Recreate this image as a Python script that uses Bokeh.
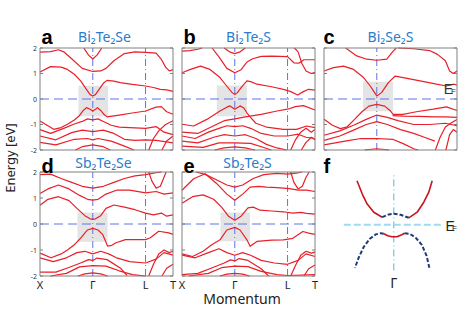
import math
from bokeh.plotting import figure
from bokeh.models import Label, Range1d
from bokeh.embed import file_html
from bokeh.resources import INLINE

# ---------------- data ----------------
K_TICKS = [-1, 0, 1, 1.52]
K_TICK_LABELS = ["X", "Γ", "L", "T"]
E_TICKS = [-2, -1, 0, 1, 2]
K_MIN, K_MAX = -1, 1.52
E_MIN, E_MAX = -2, 2

TITLES = ["Bi₂Te₂Se", "Bi₂Te₂S", "Bi₂Se₂S", "Sb₂Te₂Se", "Sb₂Te₂S"]
LETTERS = ["a", "b", "c", "d", "e", "f"]

# grey highlight boxes: k_left, k_right, E_bottom, E_top
BOX_A = [-0.27, 0.29, -0.68, 0.52]
BOX_B = [-0.34, 0.23, -0.68, 0.53]
BOX_C = [-0.26, 0.31, -0.48, 0.68]
BOX_D = [-0.29, 0.28, -0.68, 0.44]
BOX_E = [-0.27, 0.29, -0.66, 0.44]

bands_a = [
    ([-0.17, -0.08, 0, 0.08, 0.17], [2.0, 1.72, 1.57, 1.72, 2.0]),
    ([-1, -0.8, -0.65, -0.55, -0.4, -0.2, 0, 0.15, 0.25, 0.4, 0.6, 0.8, 1.0, 1.2, 1.3, 1.38, 1.45, 1.52],
     [1.84, 1.86, 1.93, 1.85, 1.58, 1.2, 1.08, 1.1, 1.2, 1.5, 1.78, 1.85, 1.83, 1.8, 1.55, 1.25, 1.1, 1.15]),
    ([-1, -0.8, -0.6, -0.48, -0.35, -0.23, -0.12, -0.05, 0, 0.05, 0.12, 0.21, 0.27, 0.4, 0.52, 0.75, 1.0, 1.15, 1.28, 1.4, 1.52],
     [1.06, 1.27, 1.25, 1.16, 0.97, 0.71, 0.38, 0.17, 0.12, 0.17, 0.38, 0.64, 0.73, 0.7, 0.64, 0.57, 0.51, 0.45, 0.38, 0.36, 0.3]),
    ([-1, -0.85, -0.74, -0.6, -0.48, -0.35, -0.26, -0.18, -0.12, -0.05, 0, 0.05, 0.09, 0.15, 0.22, 0.27, 0.5, 0.75, 1.0, 1.2, 1.3, 1.4, 1.52],
     [-0.86, -1.05, -1.19, -1.12, -0.99, -0.82, -0.67, -0.45, -0.34, -0.4, -0.47, -0.4, -0.34, -0.45, -0.62, -0.7, -0.63, -0.55, -0.47, -0.32, -0.3, -0.5, -0.6]),
    ([-1, -0.8, -0.55, -0.35, -0.2, -0.1, 0, 0.1, 0.2, 0.35, 0.5, 0.7, 1.0, 1.2, 1.35, 1.52],
     [-1.2, -1.35, -1.15, -0.98, -0.88, -0.78, -0.82, -0.78, -0.88, -1.03, -1.1, -1.12, -1.15, -1.08, -1.3, -1.4]),
    ([-1, -0.7, -0.4, -0.2, 0, 0.2, 0.4, 0.6, 0.8, 1.0, 1.2, 1.52],
     [-1.45, -1.6, -1.32, -1.22, -1.28, -1.22, -1.35, -1.58, -1.62, -1.6, -1.62, -1.72]),
    ([-1, -0.7, -0.35, -0.1, 0, 0.1, 0.35, 0.6, 0.78], [-1.7, -1.8, -1.58, -1.55, -1.6, -1.55, -1.65, -1.85, -2.0]),
    ([-0.33, -0.2, 0, 0.2, 0.33], [-2.0, -1.87, -1.8, -1.87, -2.0]),
    ([1.06, 1.15, 1.25, 1.38, 1.52], [-2.0, -1.55, -1.25, -1.0, -0.85]),
    ([1.31, 1.4, 1.52], [-2.0, -1.65, -1.45]),
]

bands_b = [
    ([-0.2, -0.1, 0, 0.1, 0.2], [2.0, 1.85, 1.78, 1.85, 2.0]),
    ([-1, -0.85, -0.7, -0.62], [1.88, 1.9, 1.95, 2.0]),
    ([-0.43, -0.3, -0.15, 0, 0.12, 0.23, 0.34, 0.5, 0.7, 1.0, 1.12, 1.22, 1.31, 1.52],
     [2.0, 1.65, 1.2, 1.03, 1.15, 1.45, 1.58, 1.67, 1.68, 1.66, 1.42, 1.41, 1.54, 1.54]),
    ([-1, -0.84, -0.65, -0.47, -0.28, -0.15, -0.05, 0, 0.05, 0.12, 0.23, 0.3, 0.42, 0.7, 0.92, 1.05, 1.19, 1.3, 1.4, 1.52],
     [1.03, 1.16, 1.29, 1.16, 0.84, 0.5, 0.25, 0.18, 0.25, 0.45, 0.71, 0.68, 0.58, 0.48, 0.38, 0.3, 0.16, 0.29, 0.38, 0.35]),
    ([-1, -0.78, -0.53, -0.28, -0.15, -0.09, 0, 0.1, 0.17, 0.23, 0.29, 0.4, 0.6, 0.92, 1.17, 1.36, 1.52],
     [-0.99, -1.06, -0.8, -0.47, -0.32, -0.27, -0.4, -0.27, -0.35, -0.54, -0.7, -0.95, -1.1, -1.19, -1.19, -1.06, -1.12]),
    ([-1, -0.7, -0.4, -0.2, 0, 0.2, 0.5, 0.8, 1.0, 1.15, 1.3, 1.52],
     [-1.3, -1.35, -1.05, -0.85, -0.78, -0.7, -0.6, -0.47, -0.4, -0.3, -0.26, -0.43]),
    ([-1, -0.75, -0.5, -0.3, -0.15, 0, 0.15, 0.3, 0.5, 0.75, 1.0, 1.2, 1.35, 1.52],
     [-1.45, -1.55, -1.3, -1.15, -1.05, -1.08, -1.05, -1.15, -1.35, -1.45, -1.45, -1.38, -1.5, -1.55]),
    ([-1, -0.7, -0.4, -0.2, 0, 0.2, 0.4, 0.6, 0.8, 0.98],
     [-1.65, -1.72, -1.5, -1.4, -1.45, -1.4, -1.55, -1.78, -1.92, -2.0]),
    ([-1, -0.6, -0.3, 0, 0.3, 0.55, 0.69], [-1.85, -1.9, -1.72, -1.72, -1.74, -1.9, -2.0]),
    ([-0.38, -0.2, 0, 0.2, 0.38], [-2.0, -1.92, -1.88, -1.92, -2.0]),
    ([1.06, 1.15, 1.25, 1.35, 1.45, 1.52], [-2.0, -1.6, -1.3, -1.15, -1.3, -1.2]),
    ([1.26, 1.35, 1.45, 1.52], [-2.0, -1.7, -1.5, -1.6]),
    ([1.13, 1.2, 1.27, 1.35, 1.45, 1.52], [2.0, 1.85, 1.4, 1.1, 1.0, 1.05]),
]

bands_c = [
    ([-0.59, -0.38, -0.19, 0, 0.19, 0.31, 0.37], [2.0, 1.69, 1.56, 1.52, 1.56, 1.88, 2.0]),
    ([0.4, 0.7, 1.0, 1.15, 1.3, 1.38, 1.45, 1.52], [2.0, 1.97, 1.9, 1.75, 1.5, 1.1, 1.0, 1.1]),
    ([-1, -0.82, -0.63, -0.44, -0.25, -0.12, -0.06, 0, 0.09, 0.22, 0.35, 0.5, 0.82, 1.13, 1.32, 1.45, 1.52],
     [1.1, 1.23, 1.29, 1.16, 0.84, 0.5, 0.31, 0.12, 0.25, 0.64, 0.9, 0.84, 0.71, 0.58, 0.51, 0.58, 0.55]),
    ([-1, -0.84, -0.69, -0.56, -0.44, -0.28, -0.15, 0, 0.15, 0.25, 0.31, 0.5, 0.75, 1.07, 1.32, 1.52],
     [-0.79, -1.03, -1.16, -1.09, -0.84, -0.5, -0.28, -0.21, -0.28, -0.45, -0.6, -0.6, -0.5, -0.4, -0.31, -0.45]),
    ([-1, -0.7, -0.44, -0.2, 0, 0.2, 0.4, 0.7, 1.0, 1.3, 1.52],
     [-1.42, -1.25, -1.03, -0.8, -0.63, -0.72, -0.85, -1.0, -1.0, -0.95, -1.05]),
    ([-1, -0.7, -0.44, -0.2, 0, 0.2, 0.45, 0.7, 0.9, 1.1],
     [-1.62, -1.45, -1.22, -1.0, -0.89, -1.0, -1.2, -1.35, -1.5, -1.65]),
    ([-1, -0.6, -0.3, 0, 0.3, 0.5, 0.7, 0.78], [-1.8, -1.65, -1.55, -1.55, -1.58, -1.75, -1.95, -2.0]),
    ([-0.23, -0.1, 0, 0.1, 0.23], [-2.0, -1.97, -1.95, -1.97, -2.0]),
    ([0.3, 0.5, 0.8, 1.1, 1.3, 1.52], [-0.65, -0.67, -0.68, -0.7, -0.7, -0.72]),
    ([1.11, 1.2, 1.3, 1.4, 1.52], [-2.0, -1.5, -1.1, -0.95, -0.8]),
    ([1.31, 1.38, 1.45, 1.52], [-2.0, -1.4, -1.2, -1.3]),
]

bands_d = [
    ([-1, -0.8, -0.6, -0.4, -0.2, 0, 0.2, 0.4, 0.6, 0.8, 1.0, 1.2, 1.3],
     [1.9, 1.92, 1.75, 1.6, 1.45, 1.38, 1.45, 1.6, 1.75, 1.85, 1.9, 1.97, 2.0]),
    ([-1, -0.85, -0.65, -0.45, -0.25, -0.1, 0, 0.1, 0.25, 0.45, 0.7, 1.0, 1.2, 1.35, 1.52],
     [1.17, 1.35, 1.5, 1.35, 1.1, 0.95, 0.92, 0.95, 1.15, 1.3, 1.3, 1.2, 1.25, 1.15, 1.2]),
    ([-1, -0.85, -0.65, -0.45, -0.3, -0.15, -0.05, 0, 0.05, 0.15, 0.25, 0.4, 0.6, 0.8, 1.0, 1.15, 1.3, 1.4, 1.52],
     [0.72, 0.95, 1.05, 0.9, 0.6, 0.32, 0.2, 0.18, 0.2, 0.32, 0.6, 0.73, 0.65, 0.55, 0.42, 0.35, 0.42, 0.3, 0.35]),
    ([-1, -0.79, -0.6, -0.48, -0.35, -0.23, -0.1, 0, 0.1, 0.19, 0.28, 0.36, 0.44, 0.62, 1.0, 1.09, 1.25, 1.44, 1.52],
     [-1.12, -1.3, -1.15, -1.0, -0.8, -0.54, -0.23, -0.17, -0.23, -0.41, -0.85, -0.82, -0.72, -0.6, -0.6, -0.53, -0.28, -0.34, -0.4]),
    ([-1, -0.75, -0.5, -0.3, -0.15, 0, 0.15, 0.3, 0.45, 0.7, 1.0, 1.2, 1.35, 1.52],
     [-1.3, -1.45, -1.3, -1.1, -1.05, -1.15, -1.05, -1.15, -1.3, -1.45, -1.5, -1.35, -1.1, -1.2]),
    ([-1, -0.7, -0.48, -0.23, -0.08, 0, 0.08, 0.27, 0.52, 0.65],
     [-1.85, -1.85, -1.69, -1.5, -1.37, -1.4, -1.31, -1.37, -1.69, -1.98]),
    ([-0.8, -0.5, -0.25, 0, 0.25, 0.5, 0.75, 1.0], [-2.0, -1.9, -1.65, -1.6, -1.62, -1.8, -1.95, -2.0]),
    ([-0.28, -0.15, 0, 0.15, 0.28], [-2.0, -1.92, -1.88, -1.92, -2.0]),
    ([1.06, 1.12, 1.2, 1.28, 1.35, 1.39], [2.0, 1.65, 1.38, 1.45, 1.8, 2.0]),
    ([1.06, 1.15, 1.25, 1.35, 1.45, 1.52], [-2.0, -1.55, -1.15, -1.0, -1.1, -1.05]),
    ([1.31, 1.4, 1.52], [-2.0, -1.7, -1.55]),
]

bands_e = [
    ([-0.73, -0.55, -0.35, -0.15, 0, 0.15, 0.35, 0.55, 0.8, 1.0, 1.2, 1.27],
     [2.0, 1.9, 1.7, 1.5, 1.42, 1.5, 1.75, 1.9, 1.95, 1.92, 1.97, 2.0]),
    ([-1, -0.78, -0.56, -0.34, -0.15, 0, 0.15, 0.29, 0.45, 0.6, 0.8, 1.04, 1.2, 1.36, 1.52],
     [1.3, 1.74, 1.93, 1.55, 1.15, 0.91, 1.15, 1.42, 1.45, 1.42, 1.4, 1.36, 1.3, 1.3, 1.25]),
    ([-1, -0.8, -0.6, -0.4, -0.25, -0.12, 0, 0.12, 0.25, 0.35, 0.48, 0.7, 0.92, 1.1, 1.25, 1.36, 1.52],
     [0.8, 1.05, 1.12, 0.95, 0.65, 0.3, 0.14, 0.3, 0.62, 0.65, 0.53, 0.5, 0.47, 0.42, 0.45, 0.41, 0.38]),
    ([-1, -0.8, -0.6, -0.45, -0.28, -0.15, 0, 0.1, 0.23, 0.29, 0.42, 0.7, 0.92, 1.1, 1.29, 1.4, 1.52],
     [-1.15, -1.25, -1.05, -0.82, -0.61, -0.23, -0.13, -0.23, -0.61, -0.86, -0.67, -0.62, -0.61, -0.55, -0.29, -0.35, -0.4]),
    ([-1, -0.75, -0.5, -0.3, -0.15, 0, 0.15, 0.3, 0.5, 0.75, 1.0, 1.2, 1.35, 1.52],
     [-1.2, -1.3, -1.1, -0.95, -1.1, -1.2, -1.1, -1.2, -1.4, -1.5, -1.55, -1.4, -1.15, -1.25]),
    ([-1, -0.7, -0.45, -0.2, -0.08, 0, 0.08, 0.25, 0.5, 0.64],
     [-1.95, -1.9, -1.7, -1.5, -1.38, -1.42, -1.33, -1.4, -1.72, -2.0]),
    ([-0.87, -0.5, -0.25, 0, 0.25, 0.5, 0.8, 1.0, 1.52], [-2.0, -1.9, -1.68, -1.62, -1.64, -1.82, -1.95, -1.98, -1.95]),
    ([-0.28, -0.15, 0, 0.15, 0.28], [-2.0, -1.93, -1.9, -1.93, -2.0]),
    ([1.06, 1.12, 1.2, 1.28, 1.35, 1.41], [2.0, 1.6, 1.35, 1.45, 1.8, 2.0]),
    ([1.06, 1.15, 1.25, 1.35, 1.45, 1.52], [-2.0, -1.6, -1.2, -1.05, -1.12, -1.08]),
    ([1.31, 1.4, 1.52], [-2.0, -1.72, -1.58]),
]

# panel f: schematic bands near Gamma (k, E in schematic units)
f_red_up_left_k = [-0.92, -0.85, -0.79, -0.67, -0.5, -0.29]
f_red_up_left_e = [2.2, 1.85, 1.55, 1.05, 0.63, 0.38]
f_red_up_right_k = [0.375, 0.585, 0.75, 0.875, 0.96]
f_red_up_right_e = [0.35, 0.63, 1.13, 1.63, 2.2]
f_navy_up_k = [-0.29, -0.125, 0, 0.17, 0.375]
f_navy_up_e = [0.38, 0.52, 0.55, 0.5, 0.35]
f_red_lo_k = [-0.25, -0.15, -0.05, 0.08, 0.2, 0.27]
f_red_lo_e = [-0.45, -0.55, -0.6, -0.6, -0.5, -0.42]
f_navy_lo_left_k = [-0.25, -0.33, -0.45, -0.6, -0.75, -0.88, -0.97]
f_navy_lo_left_e = [-0.45, -0.42, -0.48, -0.7, -1.1, -1.65, -2.15]
f_navy_lo_right_k = [0.27, 0.4, 0.55, 0.7, 0.82, 0.9]
f_navy_lo_right_e = [-0.42, -0.45, -0.65, -1.0, -1.55, -2.25]
f_gamma_line_e = [-2.28, 2.47]
f_fermi_line_k = [-1.25, 1.25]

# ---------------- style / layout ----------------
RED = "#e8202a"
GUIDE = "#5f73ec"
TITLE_BLUE = "#2b7cc9"
BOX_GREY = "#e4e4e4"
FRAME = "#808080"
TXT = "#222222"
FONT = "Noto Sans"
BOLD_FONT = "Liberation Sans"

W, H = 461, 318
# panel frames on the canvas (left, right, top, bottom) in pixels
FRAMES = {"a": (39.5, 172.5, 47.5, 149.5), "b": (181.5, 314.5, 47.5, 149.5),
          "c": (323.5, 456.5, 47.5, 149.5), "d": (39.5, 172.5, 171.5, 275.5),
          "e": (181.5, 314.5, 171.5, 275.5)}


def xmap(x0, x1, lo, hi):
    s = (hi - lo) / (x1 - x0)
    return Range1d(lo - x0 * s, lo + (W - x0) * s)


def ymap(y0, y1, lo, hi):
    # y0 (upper pixel row) shows hi, y1 shows lo
    s = (hi - lo) / (y1 - y0)
    return Range1d(hi - (H - y0) * s, hi + y0 * s)


p = figure(width=W, height=H, x_range=Range1d(0, W), y_range=Range1d(H, 0), title=None,
           output_backend="svg", toolbar_location=None, min_border=0)
p.axis.visible = False
p.grid.visible = False
p.outline_line_color = None

xr, yr = {}, {}
for name, (x0, x1, y0, y1) in FRAMES.items():
    xr["x" + name] = xmap(x0, x1, K_MIN, K_MAX)
    yr["y" + name] = ymap(y0, y1, E_MIN, E_MAX)
xr["xf"] = xmap(393.3, 433.3, 0, 1)
yr["yf"] = ymap(204.3, 224.3, 0, 1)
p.extra_x_ranges = xr
p.extra_y_ranges = yr


def draw_panel(name, bands, box, show_L):
    rn = dict(x_range_name="x" + name, y_range_name="y" + name)
    p.quad(left=[box[0]], right=[box[1]], bottom=[box[2]], top=[box[3]],
           fill_color=BOX_GREY, line_color=None, **rn)
    p.segment(x0=[K_MIN], y0=[0], x1=[K_MAX], y1=[0], line_color=GUIDE, line_width=1,
              line_dash="9 5", **rn)
    gx = [0, 1] if show_L else [0]
    p.segment(x0=gx, y0=[E_MIN] * len(gx), x1=gx, y1=[E_MAX] * len(gx), line_color=GUIDE,
              line_width=1, line_dash="7 3 1 3", **rn)
    p.ray(x=[K_MIN] * len(E_TICKS), y=E_TICKS, length=3, length_units="screen", angle=0,
          line_color=FRAME, line_width=1, **rn)
    p.ray(x=[K_MAX] * len(E_TICKS), y=E_TICKS, length=3, length_units="screen", angle=math.pi,
          line_color=FRAME, line_width=1, **rn)
    p.multi_line([b[0] for b in bands], [b[1] for b in bands], line_color=RED,
                 line_width=1.2, line_join="round", **rn)
    p.quad(left=[K_MIN], right=[K_MAX], bottom=[E_MIN], top=[E_MAX], fill_color=None,
           line_color=FRAME, line_width=1, **rn)


draw_panel("a", bands_a, BOX_A, True)
draw_panel("b", bands_b, BOX_B, True)
draw_panel("c", bands_c, BOX_C, False)
draw_panel("d", bands_d, BOX_D, True)
draw_panel("e", bands_e, BOX_E, True)


def text(x, y, s, size, color=TXT, font=FONT, align="left", bold=False, angle=0, **kw):
    p.add_layout(Label(x=x, y=y, text=s, text_align=align, text_baseline="alphabetic",
                       text_font=font, text_font_size=size, text_color=color, angle=angle,
                       text_font_style="bold" if bold else "normal", **kw))


# titles and panel letters (vertical positions are text centres on the canvas)
for x, y, t in zip([104, 248, 390, 103, 247], [36, 36, 36, 161.8, 161.8], TITLES):
    text(x, y, t, "14px", color=TITLE_BLUE, align="center")
for x, y, t in zip([41, 183, 323, 41, 183, 323], [36.8, 36.8, 36.8, 165.3, 165.3, 165.3], LETTERS):
    text(x, y, t, "20px", color="black", font=BOLD_FONT, bold=True)

# tick labels
for name in ["a", "d"]:
    for t in E_TICKS:
        text(36.5, t, str(t), "7px", color="#333333", align="right", y_range_name="y" + name)
for name in ["d", "e"]:
    for k, s in zip(K_TICKS, K_TICK_LABELS):
        text(k, 283.5, s, "11px", align="center", x_range_name="x" + name)

# Fermi level mark in panel c
text(1.27, 0.40, "E", "14px", color="#333333", font="Liberation Sans",
     x_range_name="xc", y_range_name="yc")
text(1.405, 0.30, "F", "8px", color="#333333", font="Liberation Sans",
     x_range_name="xc", y_range_name="yc")

# axis titles
text(241.5, 298.2, "Momentum", "14px", align="center")
text(9.5, 157.5, "Energy [eV]", "13px", align="center", angle=math.pi / 2)

# ---- panel f (schematic) ----
rf = dict(x_range_name="xf", y_range_name="yf")
p.segment(x0=[0], y0=[f_gamma_line_e[0]], x1=[0], y1=[f_gamma_line_e[1]],
          line_color="#56b4e0", line_width=1, line_dash="7 3 1 3", **rf)
p.segment(x0=[f_fermi_line_k[0]], y0=[0], x1=[f_fermi_line_k[1]], y1=[0],
          line_color="#9fd9f2", line_width=2, line_dash="7 3", **rf)
for kk, ee in [(f_red_up_left_k, f_red_up_left_e), (f_red_up_right_k, f_red_up_right_e),
               (f_red_lo_k, f_red_lo_e)]:
    p.line(kk, ee, line_color="#c8141e", line_width=1.6, line_join="round", **rf)
for kk, ee in [(f_navy_up_k, f_navy_up_e), (f_navy_lo_left_k, f_navy_lo_left_e),
               (f_navy_lo_right_k, f_navy_lo_right_e)]:
    p.line(kk, ee, line_color="#1f3c7a", line_width=2, line_dash="4 2", line_join="round", **rf)
text(1.29, -0.035, "E", "14px", font="Liberation Sans", **rf)
text(1.455, -0.16, "F", "8px", font="Liberation Sans", **rf)
text(0, 282, "Γ", "14px", align="center", x_range_name="xf")

open("out.html", "w").write(file_html(p, INLINE))
